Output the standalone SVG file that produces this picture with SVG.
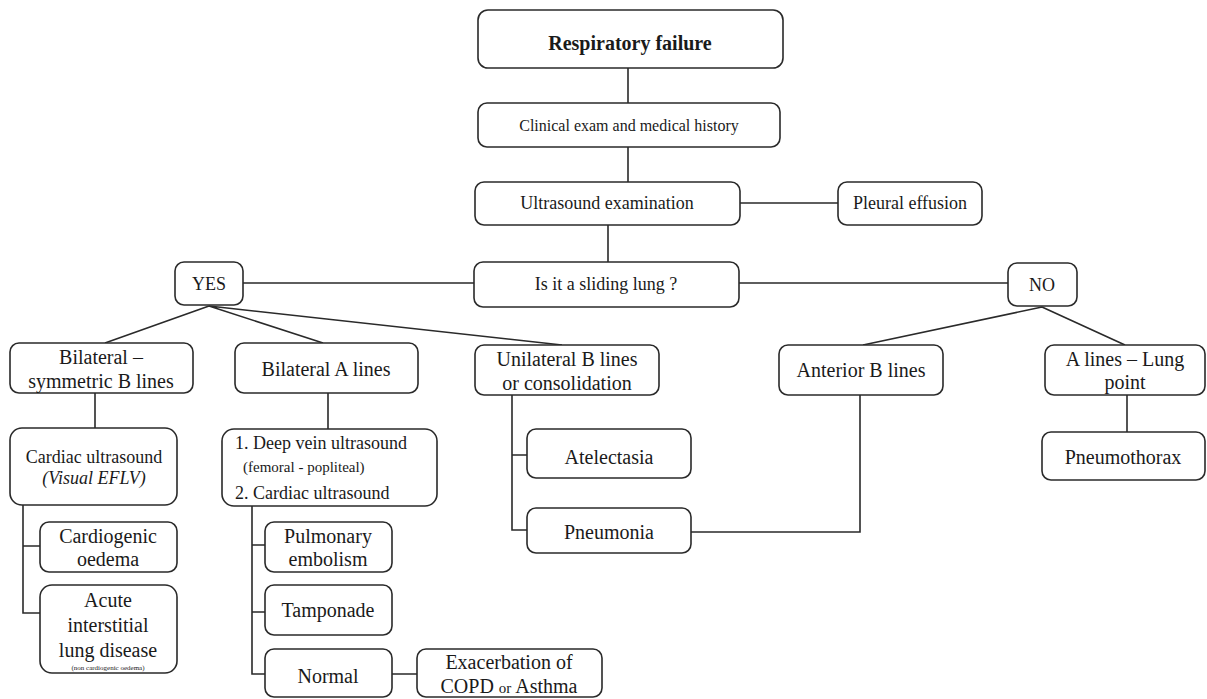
<svg xmlns="http://www.w3.org/2000/svg" width="1207" height="699" viewBox="0 0 1207 699" font-family="'Liberation Serif', 'Times New Roman', 'DejaVu Serif', serif">
<style>
.b{fill:#fff;stroke:#2a2a2a;stroke-width:1.6}
.c{fill:none;stroke:#2a2a2a;stroke-width:1.6}
text{font-family:'Liberation Serif','Times New Roman','DejaVu Serif',serif;fill:#1a1a1a;text-anchor:middle}
.s16{font-size:16px}.s18{font-size:18px}.s20{font-size:20px}
</style>
<rect width="1207" height="699" fill="#fff"/>
<g id="connectors">
<path class="c" d="M628 68V103M628 147V182M740 203H838M608 225V262M243 283H474M739 283H1008"/>
<path class="c" d="M209 306L105 343M209 306L323 343M209 306L562 345"/>
<path class="c" d="M1042 307L863 345M1042 307L1125 345"/>
<path class="c" d="M95 393V428M23 505V613H40M23 546H40"/>
<path class="c" d="M328 393V429M252 506V674H265M252 545H265M252 612H265M392 674H417"/>
<path class="c" d="M512 395V530H527M512 455H527M691 532H860V395"/>
<path class="c" d="M1127 395V432"/>
</g>
<g id="n-resp"><rect class="b" x="478" y="10" width="305" height="58" rx="10"/><text x="630" y="50" style="font-size:20px;font-weight:bold">Respiratory failure</text></g>
<g id="n-clin"><rect class="b" x="478" y="103" width="302" height="44" rx="9"/><text class="s16" x="629" y="131">Clinical exam and medical history</text></g>
<g id="n-us"><rect class="b" x="475" y="182" width="265" height="43" rx="9"/><text class="s18" x="607" y="209">Ultrasound examination</text></g>
<g id="n-pleural"><rect class="b" x="838" y="182" width="144" height="43" rx="9"/><text class="s18" x="910" y="209">Pleural effusion</text></g>
<g id="n-sliding"><rect class="b" x="474" y="262" width="265" height="45" rx="9"/><text class="s18" x="606" y="290">Is it  a sliding lung ?</text></g>
<g id="n-yes"><rect class="b" x="175" y="262" width="68" height="43" rx="9"/><text class="s18" x="209" y="290">YES</text></g>
<g id="n-no"><rect class="b" x="1008" y="263" width="69" height="43" rx="9"/><text class="s18" x="1042" y="291">NO</text></g>
<g id="n-bsym"><rect class="b" x="10" y="343" width="183" height="50" rx="9"/><text class="s20" x="101" y="364">Bilateral –</text><text class="s20" x="101" y="388">symmetric B lines</text></g>
<g id="n-bal"><rect class="b" x="235" y="343" width="183" height="50" rx="9"/><text class="s20" x="326" y="376">Bilateral A lines</text></g>
<g id="n-uni"><rect class="b" x="475" y="345" width="184" height="50" rx="9"/><text class="s20" x="567" y="366">Unilateral B lines</text><text class="s20" x="567" y="390">or consolidation</text></g>
<g id="n-ant"><rect class="b" x="779" y="345" width="164" height="50" rx="9"/><text class="s20" x="861" y="377">Anterior B lines</text></g>
<g id="n-alines"><rect class="b" x="1045" y="345" width="160" height="50" rx="9"/><text class="s20" x="1125" y="366">A lines – Lung</text><text class="s20" x="1125" y="389">point</text></g>
<g id="n-cardiac"><rect class="b" x="10" y="428" width="167" height="77" rx="12"/><text class="s18" x="94" y="463">Cardiac ultrasound</text><text class="s18" x="94" y="484" font-style="italic">(Visual EFLV)</text></g>
<g id="n-cardio"><rect class="b" x="40" y="522" width="137" height="50" rx="9"/><text class="s20" x="108" y="543">Cardiogenic</text><text class="s20" x="108" y="566">oedema</text></g>
<g id="n-acute"><rect class="b" x="40" y="585" width="137" height="88" rx="12"/><text class="s20" x="108" y="607">Acute</text><text class="s20" x="108" y="632">interstitial</text><text class="s20" x="108" y="657">lung disease</text><text x="108" y="670" style="font-size:7px">(non cardiogenic oedema)</text></g>
<g id="n-deep"><rect class="b" x="222" y="429" width="215" height="77" rx="12"/><text class="s18" x="235" y="449" style="text-anchor:start">1. Deep vein ultrasound</text><text x="243" y="472" style="text-anchor:start;font-size:15px">(femoral - popliteal)</text><text class="s18" x="235" y="499" style="text-anchor:start">2. Cardiac ultrasound</text></g>
<g id="n-pe"><rect class="b" x="265" y="522" width="127" height="50" rx="9"/><text class="s20" x="328" y="543">Pulmonary</text><text class="s20" x="328" y="566">embolism</text></g>
<g id="n-tamp"><rect class="b" x="265" y="585" width="127" height="50" rx="9"/><text class="s20" x="328" y="617">Tamponade</text></g>
<g id="n-normal"><rect class="b" x="265" y="649" width="127" height="48" rx="9"/><text class="s20" x="328" y="683">Normal</text></g>
<g id="n-exac"><rect class="b" x="417" y="649" width="185" height="48" rx="9"/><text class="s20" x="509" y="669">Exacerbation of</text><text class="s20" x="509" y="693">COPD <tspan style="font-size:15px">or</tspan> Asthma</text></g>
<g id="n-atel"><rect class="b" x="527" y="429" width="164" height="49" rx="9"/><text class="s20" x="609" y="464">Atelectasia</text></g>
<g id="n-pneu"><rect class="b" x="527" y="508" width="164" height="45" rx="9"/><text class="s20" x="609" y="539">Pneumonia</text></g>
<g id="n-ptx"><rect class="b" x="1042" y="432" width="163" height="48" rx="9"/><text class="s20" x="1123" y="464">Pneumothorax</text></g>
</svg>
